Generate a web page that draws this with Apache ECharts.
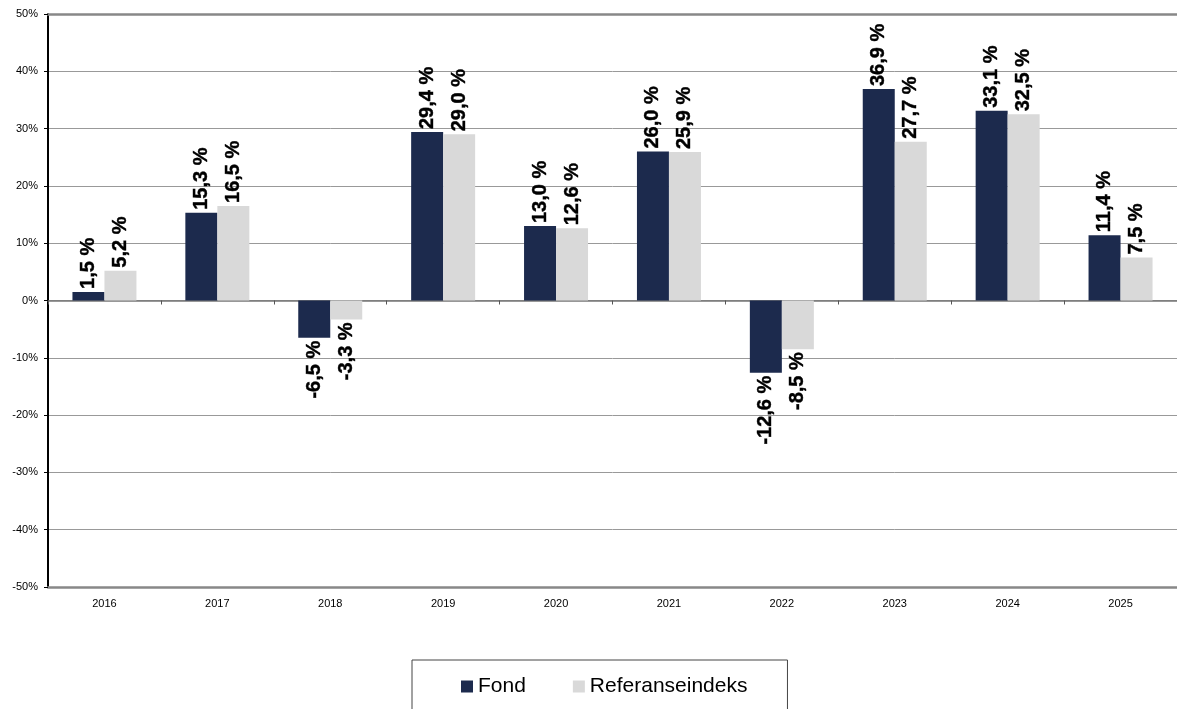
<!DOCTYPE html>
<html>
<head>
<meta charset="utf-8">
<script src="https://cdn.jsdelivr.net/npm/echarts@6/dist/echarts.min.js"></script>
<style>html,body{margin:0;padding:0;background:#fff;}#c{width:1177px;height:709px;}</style>
</head>
<body>
<div id="c"></div>
<script>
const categories = ['2016','2017','2018','2019','2020','2021','2022','2023','2024','2025'];
const fond = [1.5, 15.3, -6.5, 29.4, 13.0, 26.0, -12.6, 36.9, 33.1, 11.4];
const referanse = [5.2, 16.5, -3.3, 29.0, 12.6, 25.9, -8.5, 27.7, 32.5, 7.5];
const seriesNames = ['Fond', 'Referanseindeks'];

const fmt = v => v.toFixed(1).replace('.', ',') + ' %';
function items(arr) {
  return arr.map(v => ({
    value: v,
    label: v >= 0
      ? { position: 'top', align: 'left', verticalAlign: 'middle', distance: 3 }
      : { position: 'bottom', align: 'right', verticalAlign: 'middle', distance: 3 }
  }));
}
const labelBase = {
  show: true, rotate: 90, fontFamily: 'Liberation Sans, Arial, sans-serif',
  fontWeight: 'bold', fontSize: 20, color: '#000',
  textBorderColor: '#000', textBorderWidth: 0.4,
  formatter: p => fmt(p.value)
};
const chart = echarts.init(document.getElementById('c'));
chart.setOption({
  animation: false,
  textStyle: { fontFamily: 'Liberation Sans, Arial, sans-serif' },
  grid: { left: 48, right: 0, top: 14, bottom: 122 },
  legend: {
    data: seriesNames, left: 412, top: 660,
    borderColor: '#444', borderWidth: 1, borderRadius: 0,
    padding: [16, 40, 30, 49], itemGap: 47,
    itemWidth: 12, itemHeight: 12, icon: 'rect',
    textStyle: { fontSize: 21, color: '#000', padding: [0, 0, 0, 0] }
  },
  xAxis: [
    { type: 'category', data: categories, position: 'bottom',
      axisLine: { onZero: false, lineStyle: { color: '#888', width: 2.5 } },
      axisTick: { show: false },
      axisLabel: { fontSize: 11, color: '#000', margin: 11 } },
    { type: 'category', data: categories, position: 'top',
      axisLine: { onZero: false, lineStyle: { color: '#888', width: 2.5 } },
      axisTick: { show: false }, axisLabel: { show: false } },
    { type: 'category', data: categories, position: 'bottom', offset: 0,
      axisLine: { onZero: true, lineStyle: { color: '#777', width: 1.5 } },
      axisTick: { show: true, length: 4, inside: false, lineStyle: { color: '#555' } },
      axisLabel: { show: false } }
  ],
  yAxis: {
    type: 'value', min: -50, max: 50, interval: 10,
    axisLine: { show: true, lineStyle: { color: '#000', width: 2 } },
    axisTick: { show: true, length: 4, lineStyle: { color: '#000' } },
    axisLabel: { formatter: '{value}%', fontSize: 11, color: '#000', margin: 10 },
    splitLine: { lineStyle: { color: '#999', width: 1 } }
  },
  series: [
    { name: seriesNames[0], type: 'bar', xAxisIndex: 0, data: items(fond),
      barWidth: 32, barGap: '0%', itemStyle: { color: '#1c2a4d' }, label: labelBase },
    { name: seriesNames[1], type: 'bar', xAxisIndex: 0, data: items(referanse),
      barWidth: 32, barGap: '0%', itemStyle: { color: '#d9d9d9' }, label: labelBase }
  ]
});
</script>
</body>
</html>
